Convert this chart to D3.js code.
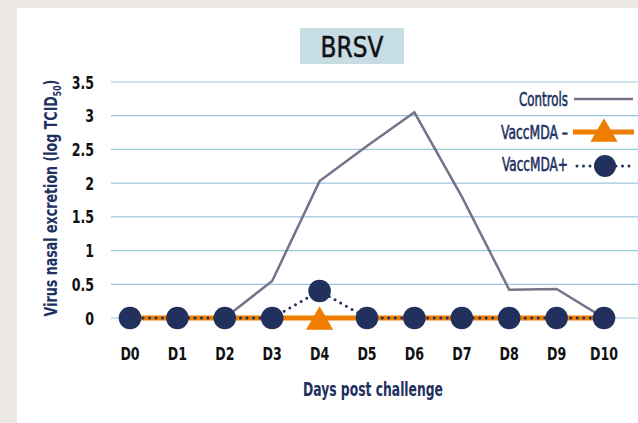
<!DOCTYPE html>
<html>
<head>
<meta charset="utf-8">
<script src="https://cdn.jsdelivr.net/npm/d3@7"></script>
<style>
  body { margin: 0; background: #ebe7e4; }
  svg { display: block; }
  text { font-family: 'DejaVu Sans Condensed', 'DejaVu Sans', sans-serif; }
</style>
</head>
<body>
<svg id="chart" width="638" height="423"></svg>
<script>
// chart data
const days = ['D0', 'D1', 'D2', 'D3', 'D4', 'D5', 'D6', 'D7', 'D8', 'D9', 'D10']
const controls = [0, 0, 0, 0.55, 2.03, 2.55, 3.05, 1.8, 0.42, 0.43, 0]
const vaccMinus = [0, 0, 0, 0, 0, 0, 0, 0, 0, 0, 0]
const vaccPlus = [0, 0, 0, 0, 0.4, 0, 0, 0, 0, 0, 0]
const yTicks = [0, 0.5, 1, 1.5, 2, 2.5, 3, 3.5]
const legendItems = ['Controls', 'VaccMDA –', 'VaccMDA+']

const navy = '#22305e'
const orange = '#ef7d00'
const grey = '#77718a'

// the original uses a narrow font, so texts are squeezed horizontally
const tickSqueeze = 0.78

const svg = d3.select('#chart')

/**
 * Squeezes a text so that it gets the given width, keeping its anchor point.
 */
function fitWidth (sel, x, y, width, rotate = 0) {
  const w = sel.node().getBBox().width
  sel.attr('transform', `translate(${x},${y}) rotate(${rotate}) scale(${width / w},1)`)
}

// white panel
svg.append('rect')
  .attr('x', 17).attr('y', 8)
  .attr('width', 621).attr('height', 415)
  .attr('fill', '#fff')

// title box
svg.append('rect')
  .attr('x', 300).attr('y', 28)
  .attr('width', 104).attr('height', 36)
  .attr('fill', '#c6dde4')
const title = svg.append('text')
  .attr('text-anchor', 'middle')
  .attr('font-size', 29)
  .attr('fill', '#111')
  .attr('stroke', '#111')
  .attr('stroke-width', 0.5)
  .text('BRSV')
fitWidth(title, 352, 56.5, 63)

const x = d3.scalePoint().domain(days).range([130, 604])
const y = d3.scaleLinear().domain([0, 3.5]).range([318, 82])

// gridlines
svg.append('g')
  .selectAll('line')
  .data(yTicks)
  .join('line')
  .attr('x1', 111).attr('x2', 638)
  .attr('y1', d => y(d)).attr('y2', d => y(d))
  .attr('stroke', '#9cc7d8')
  .attr('stroke-width', 1.2)

// y tick labels
svg.append('g')
  .selectAll('text')
  .data(yTicks)
  .join('text')
  .attr('transform', d => `translate(94,${y(d) + 6.5}) scale(${tickSqueeze},1)`)
  .attr('text-anchor', 'end')
  .attr('font-size', 18)
  .attr('font-weight', 'bold')
  .attr('fill', '#111')
  .text(d => d)

// x tick labels
svg.append('g')
  .selectAll('text')
  .data(days)
  .join('text')
  .attr('transform', d => `translate(${x(d)},360) scale(${tickSqueeze},1)`)
  .attr('text-anchor', 'middle')
  .attr('font-size', 18)
  .attr('font-weight', 'bold')
  .attr('fill', '#111')
  .text(d => d)

// axis titles
const xTitle = svg.append('text')
  .attr('text-anchor', 'middle')
  .attr('font-size', 19)
  .attr('font-weight', 'bold')
  .attr('fill', navy)
  .text('Days post challenge')
fitWidth(xTitle, 373, 396, 140)

const yTitle = svg.append('text')
  .attr('text-anchor', 'middle')
  .attr('font-size', 18)
  .attr('font-weight', 'bold')
  .attr('fill', navy)
yTitle.append('tspan').text('Virus nasal excretion (log TCID')
yTitle.append('tspan').attr('font-size', 11).attr('dy', 4).text('50')
yTitle.append('tspan').attr('dy', -4).text(')')
fitWidth(yTitle, 57, 198, 237, -90)

const line = d3.line()
  .x((d, i) => x(days[i]))
  .y(d => y(d))

// series lines
svg.append('path')
  .attr('d', line(controls))
  .attr('fill', 'none')
  .attr('stroke', grey)
  .attr('stroke-width', 2.5)

svg.append('path')
  .attr('d', line(vaccMinus))
  .attr('fill', 'none')
  .attr('stroke', orange)
  .attr('stroke-width', 5)

svg.append('path')
  .attr('d', line(vaccPlus))
  .attr('fill', 'none')
  .attr('stroke', navy)
  .attr('stroke-width', 3)
  .attr('stroke-linecap', 'round')
  .attr('stroke-dasharray', '0,6.5')

// triangle marker (only shown at D4)
const tri = d3.symbol().type(d3.symbolTriangle).size(320)
svg.append('path')
  .attr('d', tri())
  .attr('transform', `translate(${x('D4')},${y(vaccMinus[4]) + 4})`)
  .attr('fill', orange)

// circle markers
svg.append('g')
  .selectAll('circle')
  .data(vaccPlus)
  .join('circle')
  .attr('cx', (d, i) => x(days[i]))
  .attr('cy', d => y(d))
  .attr('r', 11.3)
  .attr('fill', navy)

// legend
const legend = svg.append('g')
const legendY = [105.5, 138.5, 171]
const legendW = [49, 67, 66]
legendItems.forEach((name, i) => {
  const t = legend.append('text')
    .attr('text-anchor', 'end')
    .attr('font-size', 20)
    .attr('fill', navy)
    .attr('stroke', navy)
    .attr('stroke-width', 0.6)
    .text(name)
  fitWidth(t, 568, legendY[i], legendW[i])
})

legend.append('line')
  .attr('x1', 574).attr('x2', 633)
  .attr('y1', 99).attr('y2', 99)
  .attr('stroke', grey).attr('stroke-width', 2.5)
legend.append('line')
  .attr('x1', 573).attr('x2', 634)
  .attr('y1', 132).attr('y2', 132)
  .attr('stroke', orange).attr('stroke-width', 5)
legend.append('path')
  .attr('d', tri())
  .attr('transform', 'translate(604,134)')
  .attr('fill', orange)
legend.append('line')
  .attr('x1', 577).attr('x2', 635)
  .attr('y1', 166).attr('y2', 166)
  .attr('stroke', navy).attr('stroke-width', 3)
  .attr('stroke-linecap', 'round')
  .attr('stroke-dasharray', '0,6.5')
legend.append('circle')
  .attr('cx', 605).attr('cy', 166).attr('r', 11)
  .attr('fill', navy)
</script>
</body>
</html>
